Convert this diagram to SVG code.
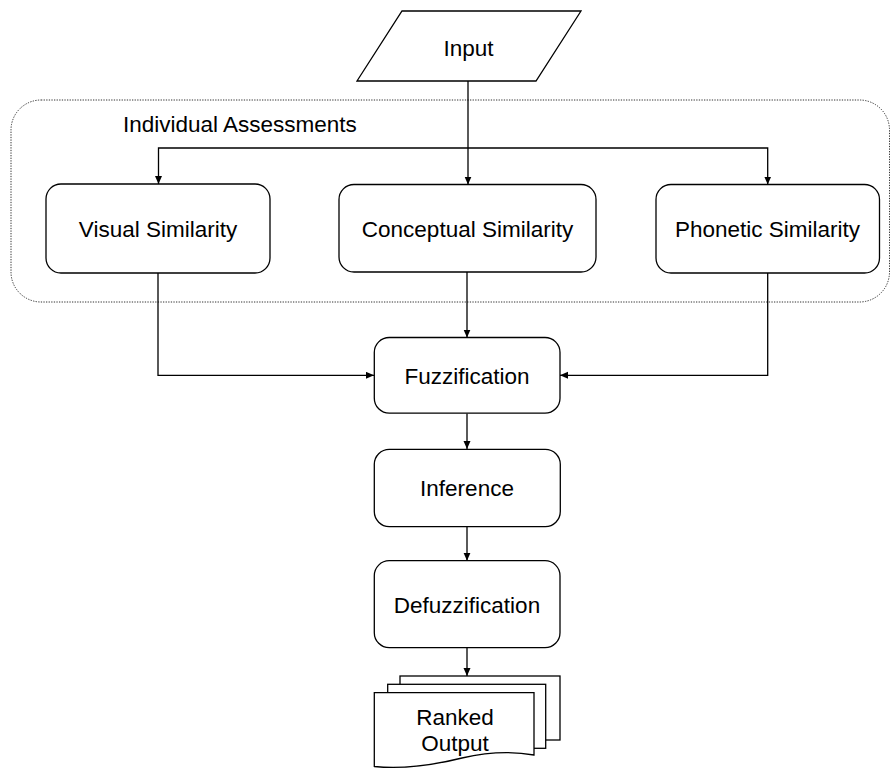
<svg xmlns="http://www.w3.org/2000/svg" width="891" height="769" viewBox="0 0 891 769">
<defs>
<marker id="arr" markerUnits="userSpaceOnUse" markerWidth="9" markerHeight="8" refX="8" refY="3.5" orient="auto">
<path d="M0,0 L8,3.5 L0,7 Z" fill="#000"/>
</marker>
<style>
.box{fill:#fff;stroke:#000;stroke-width:1.3}
.lbl{font-family:"Liberation Sans",Arial,sans-serif;font-size:22.5px;fill:#000;text-anchor:middle}
.edge{fill:none;stroke:#000;stroke-width:1.3;marker-end:url(#arr)}
.grp{fill:none;stroke:#333;stroke-width:1;stroke-dasharray:1.3 1.3}
</style>
</defs>
<rect width="891" height="769" fill="#fff"/>
<g id="group">
<rect class="grp" x="11" y="100" width="878.5" height="202" rx="30" ry="30"/>
<text x="123" y="132" style="font-family:'Liberation Sans',Arial,sans-serif;font-size:22.5px;fill:#000">Individual Assessments</text>
</g>
<g id="connectors">
<path class="edge" d="M468,81 V184.5"/>
<path class="edge" d="M468,148 H158.5 V184"/>
<path class="edge" d="M468,148 H767.7 V184.5"/>
<path class="edge" d="M158,273 V375.3 H374"/>
<path class="edge" d="M767.7,273 V375.3 H560"/>
<path class="edge" d="M467,272 V337.5"/>
<path class="edge" d="M467,413.5 V449"/>
<path class="edge" d="M467,526.5 V560.7"/>
<path class="edge" d="M467,648 V676"/>
</g>
<g id="input">
<polygon class="box" points="402,11 581,11 536,81 357,81"/>
<text class="lbl" x="468.5" y="56">Input</text>
</g>
<g id="visual">
<rect class="box" x="46" y="184" width="224" height="89" rx="15" ry="15"/>
<text class="lbl" x="158" y="236.5">Visual Similarity</text>
</g>
<g id="conceptual">
<rect class="box" x="339" y="184.5" width="257" height="87.5" rx="15" ry="15"/>
<text class="lbl" x="467.5" y="236.5">Conceptual Similarity</text>
</g>
<g id="phonetic">
<rect class="box" x="656" y="184.5" width="223.5" height="88.5" rx="15" ry="15"/>
<text class="lbl" x="767.5" y="236.5">Phonetic Similarity</text>
</g>
<g id="fuzzification">
<rect class="box" x="374.3" y="337.5" width="185.7" height="75.7" rx="15" ry="15"/>
<text class="lbl" x="467" y="383.5">Fuzzification</text>
</g>
<g id="inference">
<rect class="box" x="374.3" y="449.3" width="186" height="77.3" rx="15" ry="15"/>
<text class="lbl" x="467" y="496">Inference</text>
</g>
<g id="defuzzification">
<rect class="box" x="374.3" y="560.7" width="185.7" height="87" rx="15" ry="15"/>
<text class="lbl" x="467" y="612.5">Defuzzification</text>
</g>
<g id="ranked-output">
<rect class="box" x="400" y="676" width="160" height="64" rx="0"/>
<rect class="box" x="387.7" y="684.3" width="158" height="64" rx="0"/>
<path class="box" d="M374.3,692.7 H534 V755 C512,751 488,752 462,758 C430,766 400,769 374.3,766.5 Z"/>
<text class="lbl" x="455" y="724.5">Ranked</text>
<text class="lbl" x="455" y="751">Output</text>
</g>
</svg>
